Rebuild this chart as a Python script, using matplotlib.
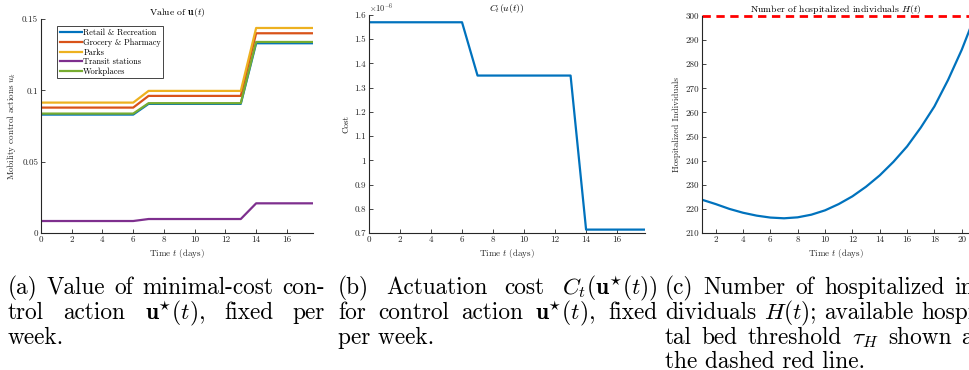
import matplotlib
matplotlib.use("Agg")
import matplotlib.pyplot as plt
import numpy as np
from matplotlib.ticker import FuncFormatter

plt.rcParams["font.family"] = ["cmr10", "DejaVu Serif"]
plt.rcParams["mathtext.fontset"] = "cm"
plt.rcParams["axes.unicode_minus"] = False

# ---- data ----
days_a = [0, 1, 2, 3, 4, 5, 6, 7, 8, 9, 10, 11, 12, 13, 14, 15, 16, 17, 18]
week_idx = [0, 0, 0, 0, 0, 0, 0, 1, 1, 1, 1, 1, 1, 1, 2, 2, 2, 2, 2]
categories = ["Retail & Recreation", "Grocery & Pharmacy", "Parks",
              "Transit stations", "Workplaces"]
retail = [0.0830, 0.0905, 0.1330]
grocery = [0.0879, 0.0961, 0.1400]
parks = [0.0914, 0.0996, 0.1437]
transit = [0.0084, 0.0098, 0.0208]
workplaces = [0.0837, 0.0910, 0.1339]
cost_weekly = [1.57e-6, 1.35e-6, 0.714e-6]

days_c = [1, 2, 3, 4, 5, 6, 7, 8, 9, 10, 11, 12, 13, 14, 15, 16, 17, 18, 19, 20, 21]
hosp = [223.8, 222.0, 220.0, 218.4, 217.2, 216.4, 216.1, 216.5, 217.6, 219.4,
        222.0, 225.2, 229.2, 233.9, 239.5, 245.9, 253.7, 262.5, 273.5, 286.0, 300.5]
bed_threshold = 300

colors = ["#0072BD", "#D95319", "#EDB120", "#7E2F8E", "#77AC30"]
INK = "#262626"

W, H = 969, 370
fig = plt.figure(figsize=(W / 100, H / 100), dpi=100)


def px_axes(x0, y0, x1, y1):
    return fig.add_axes([x0 / W, 1 - y1 / H, (x1 - x0) / W, (y1 - y0) / H])


def style(ax):
    for s in ("top", "right"):
        ax.spines[s].set_visible(False)
    for s in ("left", "bottom"):
        ax.spines[s].set_color(INK)
        ax.spines[s].set_linewidth(0.8)
    ax.tick_params(direction="in", length=3, width=0.6, labelsize=6.5,
                   colors=INK, pad=2)
    ax.xaxis.set_major_formatter(FuncFormatter(lambda v, p: f"{v:g}"))
    ax.yaxis.set_major_formatter(FuncFormatter(lambda v, p: f"{v:g}"))


def xlab(ax):
    ax.set_xlabel("Time $t$ (days)", fontsize=6.5, color=INK, labelpad=2)


# (a) control actions
ax = px_axes(41, 19, 313, 233)
for name, vals, c in zip(categories, [retail, grocery, parks, transit, workplaces], colors):
    ax.plot(days_a, [vals[w] for w in week_idx], color=c, lw=1.6, label=name)
ax.set_xlim(0, 17.7)
ax.set_ylim(0, 0.15)
ax.set_xticks(range(0, 17, 2))
ax.set_yticks([0, 0.05, 0.1, 0.15])
style(ax)
xlab(ax)
ax.set_ylabel("Mobility control actions $u_k$", fontsize=6.5, color=INK, labelpad=3)
ax.set_title(r"Value of $\mathbf{u}(t)$", fontsize=7, color="black", pad=3)
leg = ax.legend(loc="upper left", bbox_to_anchor=(0.045, 0.985), fontsize=6,
                handlelength=2.6, handletextpad=0.2, borderpad=0.3,
                labelspacing=0.15, fancybox=False, framealpha=1)
leg.get_frame().set_edgecolor(INK)
leg.get_frame().set_linewidth(0.6)

# (b) actuation cost
ax = px_axes(369, 15, 645, 233)
ax.plot(days_a, [cost_weekly[w] / 1e-6 for w in week_idx], color=colors[0], lw=1.6)
ax.set_xlim(0, 17.8)
ax.set_ylim(0.7, 1.6)
ax.set_xticks(range(0, 17, 2))
ax.set_yticks(np.arange(7, 17) / 10)
style(ax)
xlab(ax)
ax.set_ylabel("Cost", fontsize=6.5, color=INK, labelpad=3)
ax.set_title(r"$C_t(u(t))$", fontsize=7, color="black", pad=3)
ax.text(0, 1.005, r"$\times10^{-6}$", transform=ax.transAxes, fontsize=6,
        color=INK, ha="left", va="bottom")

# (c) hospitalized (figure is cropped on the right, as in the reference)
ax = px_axes(702, 16, 969, 233)
ax.plot(days_c, hosp, color=colors[0], lw=1.6)
ax.axhline(bed_threshold, color="#FF0000", lw=2, ls=(0, (3, 2)), clip_on=False)
ax.set_xlim(1, 20.53)
ax.set_ylim(210, 300)
ax.set_xticks(range(2, 21, 2))
ax.set_yticks(range(210, 301, 10))
style(ax)
xlab(ax)
ax.set_ylabel("Hospitalized Individuals", fontsize=6.5, color=INK, labelpad=3)
ax.set_title(r"Number of hospitalized individuals $H(t)$", fontsize=7,
             color="black", pad=3)

# captions (justified lines, baselines in pixels)
renderer = fig.canvas.get_renderer()
CAP = 16.8


def justify(x0, width, y, line, last=False):
    words = line.split(" ")
    if last or len(words) == 1:
        fig.text(x0 / W, 1 - y / H, line, fontsize=CAP, va="baseline", ha="left")
        return
    arts = [fig.text(0, 1 - y / H, w, fontsize=CAP, va="baseline", ha="left") for w in words]
    widths = [a.get_window_extent(renderer).width for a in arts]
    gap = max((width - sum(widths)) / (len(words) - 1), 4)
    x = x0
    for a, wd in zip(arts, widths):
        a.set_x(x / W)
        x += wd + gap


cap_a = ["(a) Value of minimal-cost con-",
         r"trol action $\mathbf{u}^{\star}(t)$, fixed per",
         "week."]
cap_b = [r"(b) Actuation cost $C_t(\mathbf{u}^{\star}(t))$",
         r"for control action $\mathbf{u}^{\star}(t)$, fixed",
         "per week."]
cap_c = ["(c) Number of hospitalized in-",
         "dividuals $H(t)$; available hospi-",
         r"tal bed threshold $\tau_H$ shown as",
         "the dashed red line."]
line_y = [294, 319, 344, 368]
for x0, width, cap in [(8, 317, cap_a), (338, 319, cap_b), (665, 317, cap_c)]:
    for i, line in enumerate(cap):
        justify(x0, width, line_y[i], line, last=(i == len(cap) - 1))

fig.savefig("out.png", dpi=100)
